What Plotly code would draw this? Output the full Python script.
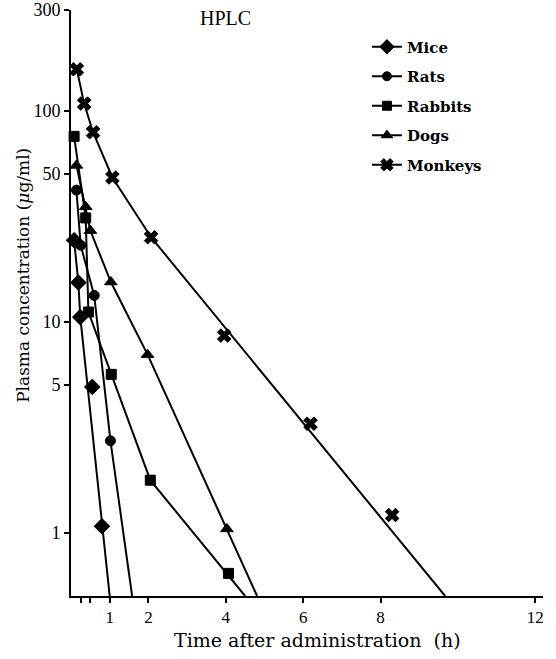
import plotly.graph_objects as go

# Measured plasma concentrations (ug/ml) vs time (h) for each species
species = ["Mice", "Rats", "Rabbits", "Dogs", "Monkeys"]
symbols = ["diamond", "circle", "square", "triangle-up", "x"]
marker_sizes = [12, 10, 10, 11, 12]

mice_t = [0.08, 0.19, 0.24, 0.55, 0.80]
mice_c = [24.3, 15.3, 10.5, 4.9, 1.07]
rats_t = [0.14, 0.25, 0.60, 1.02]
rats_c = [42.0, 23.0, 13.3, 2.72]
rabbits_t = [0.08, 0.38, 0.45, 1.04, 2.05, 4.07]
rabbits_c = [75.5, 31.0, 11.1, 5.62, 1.77, 0.64]
dogs_t = [0.14, 0.38, 0.50, 1.03, 1.98, 4.03]
dogs_c = [55.0, 35.0, 27.0, 15.4, 6.97, 1.04]
monkeys_t = [0.15, 0.34, 0.57, 1.07, 2.07, 3.96, 6.19, 8.30]
monkeys_c = [157, 108, 79, 48.2, 25.1, 8.58, 3.28, 1.21]

# Curve vertices: early points joined, terminal phase as a straight log-linear line
mice_fit_t = [0.08, 0.19, 0.24, 1.00]
mice_fit_c = [24.3, 15.3, 10.5, 0.5]
rats_fit_t = [0.14, 0.25, 0.60, 1.02, 1.58]
rats_fit_c = [42.0, 23.0, 13.3, 2.72, 0.5]
rabbits_fit_t = [0.08, 0.38, 0.45, 1.04, 2.05, 4.50]
rabbits_fit_c = [75.5, 31.0, 11.1, 5.62, 1.77, 0.5]
dogs_fit_t = [0.14, 0.38, 0.50, 1.03, 1.98, 4.81]
dogs_fit_c = [55.0, 35.0, 27.0, 15.4, 6.97, 0.5]
monkeys_fit_t = [0.15, 0.34, 0.57, 1.07, 2.07, 9.67]
monkeys_fit_c = [157, 108, 79, 48.2, 25.1, 0.5]

points = [(mice_t, mice_c), (rats_t, rats_c), (rabbits_t, rabbits_c),
          (dogs_t, dogs_c), (monkeys_t, monkeys_c)]
fits = [(mice_fit_t, mice_fit_c), (rats_fit_t, rats_fit_c),
        (rabbits_fit_t, rabbits_fit_c), (dogs_fit_t, dogs_fit_c),
        (monkeys_fit_t, monkeys_fit_c)]

x_tickvals = [0.25, 0.5, 1, 2, 4, 6, 8, 12]
x_ticktext = ["", "", "1", "2", "4", "6", "8", "12"]
y_tickvals = [1, 5, 10, 50, 100, 300]
y_ticktext = ["1", "5", "10", "50", "100", "300"]

TICK_FONT = "Liberation Serif"
TEXT_FONT = "DejaVu Serif"
INK = "black"

fig = go.Figure()
for name, sym, ms, (pt, pc), (ft, fc) in zip(species, symbols, marker_sizes, points, fits):
    fig.add_trace(go.Scatter(x=ft, y=fc, mode="lines", line=dict(color=INK, width=2),
                             showlegend=False, hoverinfo="skip"))
    fig.add_trace(go.Scatter(x=pt, y=pc, mode="markers", name=name,
                             marker=dict(symbol=sym, size=ms, color=INK,
                                         line=dict(color=INK, width=1)),
                             showlegend=False, cliponaxis=False))
    # legend entry: line with marker
    fig.add_trace(go.Scatter(x=[None], y=[None], mode="lines+markers", name=name,
                             legendgroup=name,
                             line=dict(color=INK, width=2),
                             marker=dict(symbol=sym, size=ms - 1, color=INK,
                                         line=dict(color=INK, width=1))))

fig.update_layout(
    width=556, height=659,
    margin=dict(l=71, r=13, t=10, b=63, autoexpand=False),
    paper_bgcolor="white", plot_bgcolor="white",
    font=dict(family=TICK_FONT, size=15, color=INK),
    showlegend=True,
    legend=dict(x=0.627, y=0.965, xanchor="left", yanchor="top",
                bgcolor="rgba(0,0,0,0)", borderwidth=0,
                font=dict(family=TEXT_FONT, size=15, color=INK, weight="bold"),
                tracegroupgap=7, itemwidth=30),
    xaxis=dict(range=[0, 12.2], tickmode="array", tickvals=x_tickvals,
               ticktext=x_ticktext, ticks="outside", ticklen=5, tickwidth=2,
               tickcolor=INK, showline=True, linecolor=INK, linewidth=2,
               showgrid=False, zeroline=False, automargin=False,
               tickfont=dict(family=TICK_FONT, size=17)),
    yaxis=dict(type="log", range=[-0.30103, 2.4771], tickmode="array",
               tickvals=y_tickvals, ticktext=y_ticktext, ticks="outside",
               ticklen=5, tickwidth=2, tickcolor=INK, showline=True,
               linecolor=INK, linewidth=2, showgrid=False, zeroline=False,
               automargin=False, tickfont=dict(family=TICK_FONT, size=18)),
    annotations=[
        dict(text="HPLC", x=0.327, y=0.986, xref="paper", yref="paper",
             xanchor="center", yanchor="middle", showarrow=False,
             font=dict(family=TICK_FONT, size=20, color=INK)),
        dict(text="Plasma concentration (<i>μ</i>g/ml)", x=-0.1017, y=0.548,
             xref="paper", yref="paper", textangle=-90, xanchor="center",
             yanchor="middle", showarrow=False,
             font=dict(family=TEXT_FONT, size=17, color=INK)),
        dict(text="Time after administration  (h)", x=0.523, y=-0.0751,
             xref="paper", yref="paper", xanchor="center", yanchor="middle",
             showarrow=False, font=dict(family=TEXT_FONT, size=19, color=INK)),
    ],
)

fig.write_html("out.html")
